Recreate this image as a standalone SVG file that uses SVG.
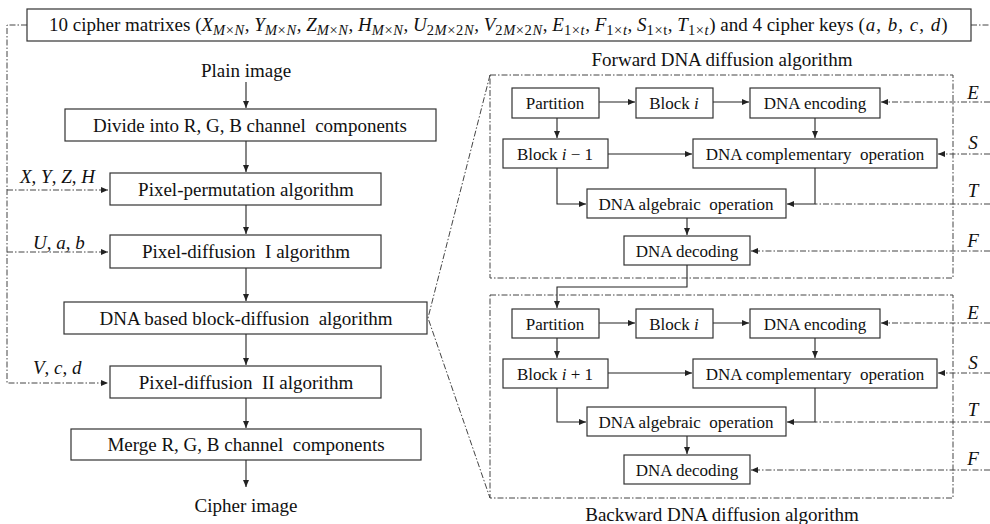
<svg xmlns="http://www.w3.org/2000/svg" width="990" height="524" viewBox="0 0 990 524">
<defs>
<marker id="ah" markerWidth="8" markerHeight="6" refX="7" refY="3" orient="auto" markerUnits="userSpaceOnUse">
<path d="M0,0 L7,3 L0,6 z" fill="#222"/>
</marker>
<style>
.box{fill:#fff;stroke:#333;stroke-width:1.2}
.t{font-family:"Liberation Serif","Times New Roman",serif;fill:#111;white-space:pre}
.l{font-size:19px;text-anchor:middle}
.s{font-size:17px;text-anchor:middle}
.m{font-style:italic}
.sub{font-size:14.5px;letter-spacing:0.6px}
.ln{fill:none;stroke:#222;stroke-width:1.1}
.dd{fill:none;stroke:#444;stroke-width:1;stroke-dasharray:6 2 1.5 2}
</style>
</defs>
<rect width="990" height="524" fill="#fff"/>

<g id="connectors">
<path class="dd" d="M27 25 H7 V383 H108" marker-end="url(#ah)"/>
<path class="dd" d="M7 190 H108" marker-end="url(#ah)"/>
<path class="dd" d="M7 252 H108" marker-end="url(#ah)"/>
<path class="dd" d="M971 25 H990"/>
<path class="ln" d="M246 82 V108" marker-end="url(#ah)"/>
<path class="ln" d="M246 141 V172" marker-end="url(#ah)"/>
<path class="ln" d="M246 205 V234" marker-end="url(#ah)"/>
<path class="ln" d="M246 268 V301" marker-end="url(#ah)"/>
<path class="ln" d="M246 334 V365" marker-end="url(#ah)"/>
<path class="ln" d="M246 398 V428" marker-end="url(#ah)"/>
<path class="ln" d="M246 460 V487" marker-end="url(#ah)"/>
<path class="dd" d="M490 75 L428 318 L490 498"/>
<path class="ln" d="M599 102 H635" marker-end="url(#ah)"/>
<path class="ln" d="M713 102 H749" marker-end="url(#ah)"/>
<path class="dd" d="M990 102 H881" marker-end="url(#ah)"/>
<path class="ln" d="M557 118 V138" marker-end="url(#ah)"/>
<path class="ln" d="M815 118 V138" marker-end="url(#ah)"/>
<path class="ln" d="M608 154 H692" marker-end="url(#ah)"/>
<path class="dd" d="M990 154 H938" marker-end="url(#ah)"/>
<path class="ln" d="M557 168 V204 H586" marker-end="url(#ah)"/>
<path class="ln" d="M815 168 V204 H787" marker-end="url(#ah)"/>
<path class="dd" d="M990 204 H815"/>
<path class="ln" d="M687 218 V235" marker-end="url(#ah)"/>
<path class="dd" d="M990 251 H751" marker-end="url(#ah)"/>
<path class="ln" d="M687 265 V287 H557 V308" marker-end="url(#ah)"/>
<path class="ln" d="M599 323 H635" marker-end="url(#ah)"/>
<path class="ln" d="M713 323 H749" marker-end="url(#ah)"/>
<path class="dd" d="M990 323 H881" marker-end="url(#ah)"/>
<path class="ln" d="M557 338 V358" marker-end="url(#ah)"/>
<path class="ln" d="M815 338 V358" marker-end="url(#ah)"/>
<path class="ln" d="M608 373 H692" marker-end="url(#ah)"/>
<path class="dd" d="M990 373 H938" marker-end="url(#ah)"/>
<path class="ln" d="M557 388 V422 H586" marker-end="url(#ah)"/>
<path class="ln" d="M815 388 V422 H787" marker-end="url(#ah)"/>
<path class="dd" d="M990 422 H815"/>
<path class="ln" d="M687 436 V454" marker-end="url(#ah)"/>
<path class="dd" d="M990 470 H751" marker-end="url(#ah)"/>
</g>

<g id="keys">
<rect class="box" x="27" y="9" width="944" height="32"/>
<text class="t" x="49" y="31" font-size="19">10 cipher matrixes (<tspan class="m">X</tspan><tspan class="sub m" baseline-shift="-4">M</tspan><tspan class="sub" baseline-shift="-4">×</tspan><tspan class="sub m" baseline-shift="-4">N</tspan>, <tspan class="m">Y</tspan><tspan class="sub m" baseline-shift="-4">M</tspan><tspan class="sub" baseline-shift="-4">×</tspan><tspan class="sub m" baseline-shift="-4">N</tspan>, <tspan class="m">Z</tspan><tspan class="sub m" baseline-shift="-4">M</tspan><tspan class="sub" baseline-shift="-4">×</tspan><tspan class="sub m" baseline-shift="-4">N</tspan>, <tspan class="m">H</tspan><tspan class="sub m" baseline-shift="-4">M</tspan><tspan class="sub" baseline-shift="-4">×</tspan><tspan class="sub m" baseline-shift="-4">N</tspan>, <tspan class="m">U</tspan><tspan class="sub" baseline-shift="-4">2</tspan><tspan class="sub m" baseline-shift="-4">M</tspan><tspan class="sub" baseline-shift="-4">×2</tspan><tspan class="sub m" baseline-shift="-4">N</tspan>, <tspan class="m">V</tspan><tspan class="sub" baseline-shift="-4">2</tspan><tspan class="sub m" baseline-shift="-4">M</tspan><tspan class="sub" baseline-shift="-4">×2</tspan><tspan class="sub m" baseline-shift="-4">N</tspan>, <tspan class="m">E</tspan><tspan class="sub" baseline-shift="-4">1×</tspan><tspan class="sub m" baseline-shift="-4">t</tspan>, <tspan class="m">F</tspan><tspan class="sub" baseline-shift="-4">1×</tspan><tspan class="sub m" baseline-shift="-4">t</tspan>, <tspan class="m">S</tspan><tspan class="sub" baseline-shift="-4">1×t</tspan>, <tspan class="m">T</tspan><tspan class="sub" baseline-shift="-4">1×</tspan><tspan class="sub m" baseline-shift="-4">t</tspan>) and 4 cipher keys <tspan letter-spacing="1">(<tspan class="m">a</tspan>, <tspan class="m">b</tspan>, <tspan class="m">c</tspan>, <tspan class="m">d</tspan>)</tspan></text>
</g>

<g id="plain"><text class="t l" x="246" y="77" font-size="20">Plain image</text></g>
<g id="divide"><rect class="box" x="65" y="109" width="371" height="32"/><text class="t l" x="250" y="132">Divide into R, G, B channel  components</text></g>
<g id="perm"><rect class="box" x="110" y="173" width="271" height="32"/><text class="t l" x="246" y="196">Pixel-permutation algorithm</text></g>
<g id="diff1"><rect class="box" x="110" y="235" width="271" height="33"/><text class="t l" x="246" y="258">Pixel-diffusion  I algorithm</text></g>
<g id="dnablock"><rect class="box" x="64" y="302" width="363" height="32"/><text class="t l" x="246" y="325">DNA based block-diffusion  algorithm</text></g>
<g id="diff2"><rect class="box" x="110" y="366" width="271" height="32"/><text class="t l" x="246" y="389">Pixel-diffusion  II algorithm</text></g>
<g id="merge"><rect class="box" x="71" y="429" width="350" height="31"/><text class="t l" x="246" y="451">Merge R, G, B channel  components</text></g>
<g id="cipher"><text class="t l" x="246" y="512" font-size="20">Cipher image</text></g>

<g id="leftlabels" class="t" font-size="19">
<text x="20" y="183"><tspan class="m">X</tspan>, <tspan class="m">Y</tspan>, <tspan class="m">Z</tspan>, <tspan class="m">H</tspan></text>
<text x="33" y="249"><tspan class="m">U</tspan>, <tspan class="m">a</tspan>, <tspan class="m">b</tspan></text>
<text x="33" y="374"><tspan class="m">V</tspan>, <tspan class="m">c</tspan>, <tspan class="m">d</tspan></text>
</g>

<g id="forward">
<text class="t l" x="722" y="66">Forward DNA diffusion algorithm</text>
<rect x="490" y="75" width="463" height="203" class="dd"/>
<g id="f-partition"><rect class="box" x="512" y="88" width="87" height="30"/><text class="t s" x="555" y="109">Partition</text></g>
<g id="f-blocki"><rect class="box" x="636" y="88" width="77" height="30"/><text class="t s" x="674" y="109">Block <tspan class="m">i</tspan></text></g>
<g id="f-enc"><rect class="box" x="750" y="88" width="130" height="30"/><text class="t s" x="815" y="109">DNA encoding</text></g>
<g id="f-blockprev"><rect class="box" x="503" y="139" width="105" height="29"/><text class="t s" x="555" y="160">Block <tspan class="m">i</tspan> − 1</text></g>
<g id="f-comp"><rect class="box" x="693" y="139" width="244" height="29"/><text class="t s" x="815" y="160">DNA complementary  operation</text></g>
<g id="f-alg"><rect class="box" x="587" y="189" width="199" height="29"/><text class="t s" x="686" y="210">DNA algebraic  operation</text></g>
<g id="f-dec"><rect class="box" x="624" y="236" width="126" height="29"/><text class="t s" x="687" y="257">DNA decoding</text></g>
<g class="t m" font-size="19" text-anchor="middle">
<text x="973" y="99">E</text><text x="973" y="149">S</text><text x="973" y="197">T</text><text x="973" y="247">F</text>
</g>
</g>

<g id="backward">
<rect x="490" y="295" width="463" height="203" class="dd"/>
<g id="b-partition"><rect class="box" x="512" y="309" width="87" height="29"/><text class="t s" x="555" y="330">Partition</text></g>
<g id="b-blocki"><rect class="box" x="636" y="309" width="77" height="29"/><text class="t s" x="674" y="330">Block <tspan class="m">i</tspan></text></g>
<g id="b-enc"><rect class="box" x="750" y="309" width="130" height="29"/><text class="t s" x="815" y="330">DNA encoding</text></g>
<g id="b-blocknext"><rect class="box" x="503" y="359" width="105" height="29"/><text class="t s" x="555" y="380">Block <tspan class="m">i</tspan> + 1</text></g>
<g id="b-comp"><rect class="box" x="693" y="359" width="244" height="29"/><text class="t s" x="815" y="380">DNA complementary  operation</text></g>
<g id="b-alg"><rect class="box" x="587" y="407" width="199" height="29"/><text class="t s" x="686" y="428">DNA algebraic  operation</text></g>
<g id="b-dec"><rect class="box" x="624" y="455" width="126" height="29"/><text class="t s" x="687" y="476">DNA decoding</text></g>
<g class="t m" font-size="19" text-anchor="middle">
<text x="973" y="319">E</text><text x="973" y="369">S</text><text x="973" y="416">T</text><text x="973" y="465">F</text>
</g>
<text class="t l" x="722" y="521">Backward DNA diffusion algorithm</text>
</g>
</svg>
